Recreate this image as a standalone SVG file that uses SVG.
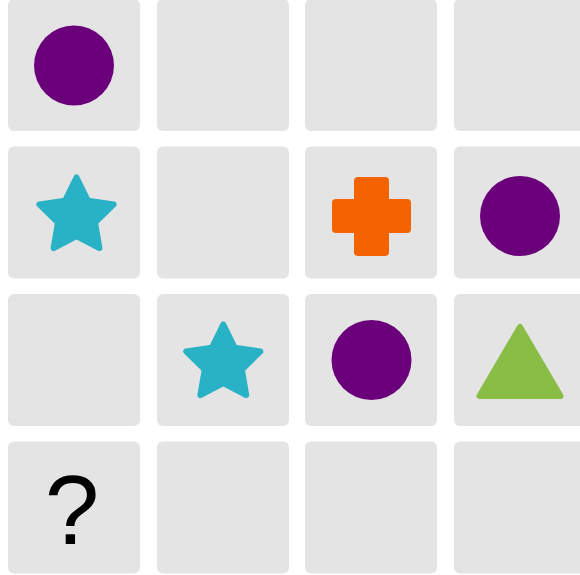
<svg xmlns="http://www.w3.org/2000/svg" width="580" height="575" viewBox="0 0 580 575">
<style>
.cell{fill:#e4e4e4}
.purple{fill:#6b007b}
.cyan{fill:#29b2c6;stroke:#29b2c6;stroke-width:6;stroke-linejoin:round}
.orange{fill:#f56200}
.green{fill:#8abd45;stroke:#8abd45;stroke-width:6;stroke-linejoin:round}
.q{font-family:"Liberation Sans",Arial,sans-serif;font-size:98px;fill:#000}
</style>
<defs>
<polygon id="star" points="0,-39 11.46,-15.78 37.09,-12.05 18.55,6.03 22.92,31.55 0,19.5 -22.92,31.55 -18.55,6.03 -37.09,-12.05 -11.46,-15.78"/>
<rect id="tile" width="132" height="132" rx="6" ry="6"/>
</defs>
<g id="cells">
<use href="#tile" class="cell" x="8" y="-1"/>
<use href="#tile" class="cell" x="157" y="-1"/>
<use href="#tile" class="cell" x="305" y="-1"/>
<use href="#tile" class="cell" x="454" y="-1"/>
<use href="#tile" class="cell" x="8" y="146.5"/>
<use href="#tile" class="cell" x="157" y="146.5"/>
<use href="#tile" class="cell" x="305" y="146.5"/>
<use href="#tile" class="cell" x="454" y="146.5"/>
<use href="#tile" class="cell" x="8" y="294"/>
<use href="#tile" class="cell" x="157" y="294"/>
<use href="#tile" class="cell" x="305" y="294"/>
<use href="#tile" class="cell" x="454" y="294"/>
<use href="#tile" class="cell" x="8" y="441.5"/>
<use href="#tile" class="cell" x="157" y="441.5"/>
<use href="#tile" class="cell" x="305" y="441.5"/>
<use href="#tile" class="cell" x="454" y="441.5"/>
</g>
<g id="shapes">
<circle id="circle-r1c1" class="purple" cx="74" cy="65.5" r="40"/>
<use id="star-r2c1" href="#star" class="cyan" transform="translate(76.5,216.5)"/>
<g id="cross-r2c3" class="orange">
<rect x="332" y="199" width="79" height="34" rx="4"/>
<rect x="354" y="177" width="35" height="79" rx="4"/>
</g>
<circle id="circle-r2c4" class="purple" cx="520" cy="216" r="40"/>
<use id="star-r3c2" href="#star" class="cyan" transform="translate(223.3,363.5)"/>
<circle id="circle-r3c3" class="purple" cx="371.5" cy="360" r="40"/>
<polygon id="triangle-r3c4" class="green" points="520,327 479.5,396 560.5,396"/>
<text id="question-r4c1" class="q" x="72" y="544" text-anchor="middle">?</text>
</g>
</svg>
